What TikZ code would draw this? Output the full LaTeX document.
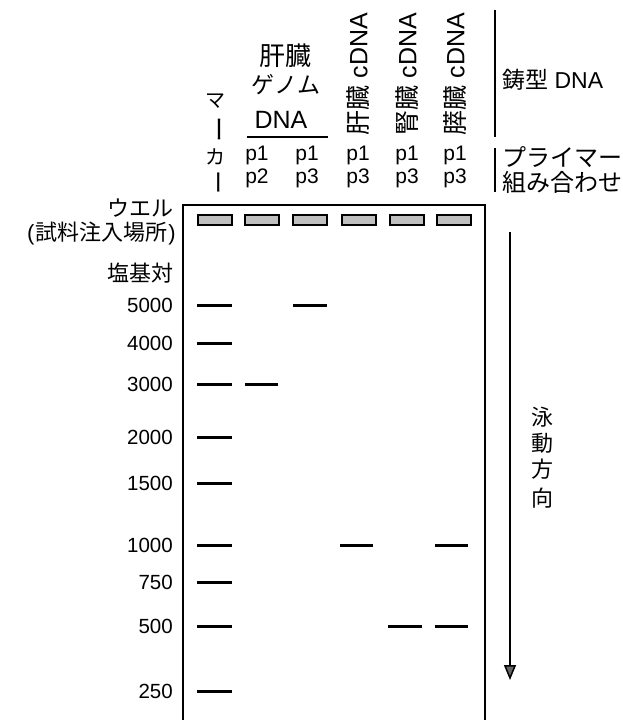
\documentclass[tikz,border=0pt]{standalone}
\usepackage{fontspec}
\setmainfont{Liberation Sans}
\newfontfamily\jp{Noto Sans CJK JP}
\usetikzlibrary{arrows.meta}
\begin{document}
\begin{tikzpicture}[x=1pt,y=-1pt,
  lat/.style={font=\fontsize{20.5}{22}\selectfont, inner sep=0pt},
  plab/.style={font=\fontsize{21}{23}\selectfont, inner sep=0pt},
  big/.style={font=\fontsize{25}{27}\selectfont, inner sep=0pt},
  jpt/.style={font=\fontsize{22}{24}\selectfont\jp, inner sep=0pt},
  band/.style={line width=3pt},
  well/.style={draw=black, line width=1.6pt, fill=gray!50},
  gel/.style={line width=1.4pt},
  rule/.style={line width=1.4pt}]
\useasboundingbox (0,0) rectangle (622,720);

% gel outline
\draw[gel] (183,720) -- (183,205) -- (485,205) -- (485,720);

% wells
\foreach \x [count=\i] in {198,245,293,342,390,437}
  \draw[well] (\x,215) rectangle ++(34,10);

% left labels
\node[jpt, anchor=east] (wlab) at (174,208) {ウエル};
\node[jpt, anchor=east] (wlab2) at (176,234) {\fontspec{Liberation Sans}(\kern1pt{\jp 試料注入場所}\kern1pt)};
\node[jpt, anchor=east] (bp) at (174,273) {塩基対};
\foreach \v/\y in {5000/305,4000/343,3000/384,2000/437,1500/483,1000/545,750/582,500/626,250/691}
  \node[lat, anchor=east] (n\v) at (173,\y) {\v};

% marker bands
\foreach \y in {305,343,384,437,483,545,582,626,691}
  \draw[band] (197,\y) -- (232,\y);
% sample bands
\draw[band] (245,384) -- (278,384);
\draw[band] (293,305) -- (327,305);
\draw[band] (340,545) -- (373,545);
\draw[band] (388,626) -- (422,626);
\draw[band] (435,545) -- (468,545);
\draw[band] (435,626) -- (468,626);

% marker label (vertical)
\node[jpt, font=\fontsize{20}{22}\selectfont\jp] (m1) at (215,101) {マ};
\node[jpt, font=\fontsize{26}{28}\selectfont\jp, rotate=-90] (m2) at (215,129) {ー};
\node[jpt, font=\fontsize{20}{22}\selectfont\jp] (m3) at (215,157) {カ};
\node[jpt, font=\fontsize{24}{26}\selectfont\jp, rotate=-90] (m4) at (215,182) {ー};

% liver genome DNA
\node[jpt, font=\fontsize{26}{28}\selectfont\jp] (kz) at (285,56) {肝臓};
\node[jpt, font=\fontsize{23}{25}\selectfont\jp] (gn) at (286,85) {ゲノム};
\node[big] (dna) at (281,120) {DNA};
\coordinate (ul) at (247,137);
\coordinate (ur) at (328,137);
\draw[line width=1.4pt] (ul) -- (ur);

% rotated cDNA labels
\node[big, rotate=90] (c1) at (358,74) {{\jp 肝臓} cDNA};
\node[big, rotate=90] (c2) at (407,74) {{\jp 腎臓} cDNA};
\node[big, rotate=90] (c3) at (455,74) {{\jp 膵臓} cDNA};

% primer labels
\foreach \x/\a/\b [count=\i] in {257/p1/p2,307/p1/p3,358/p1/p3,407/p1/p3,455/p1/p3}{
  \node[plab] (pa\i) at (\x,155) {\a};
  \node[plab] (pb\i) at (\x,178) {\b};
}

% right side labels
\coordinate (v1t) at (495,10);
\coordinate (v1b) at (495,137);
\coordinate (v2t) at (495,148);
\coordinate (v2b) at (495,192);
\draw[rule] (v1t) -- (v1b);
\draw[rule] (v2t) -- (v2b);
\node[anchor=west, inner sep=0pt, font=\fontsize{23}{25}\selectfont] (tmpl) at (502,80) {{\jp 鋳型} DNA};
\node[jpt, font=\fontsize{24}{26}\selectfont\jp, anchor=west] (pr1) at (502,157) {プライマー};
\node[jpt, font=\fontsize{24}{26}\selectfont\jp, anchor=west] (pr2) at (502,182) {組み合わせ};

% migration arrow
\coordinate (as) at (510,232);
\coordinate (ae) at (510,680);
\draw[line width=1.5pt, -{Triangle[width=12pt,length=15pt,fill=black!60]}] (as) -- (ae);
\node[jpt] (e1) at (542,417) {泳};
\node[jpt] (e2) at (542,443) {動};
\node[jpt] (e3) at (542,469) {方};
\node[jpt] (e4) at (542,498) {向};
\end{tikzpicture}
\end{document}
